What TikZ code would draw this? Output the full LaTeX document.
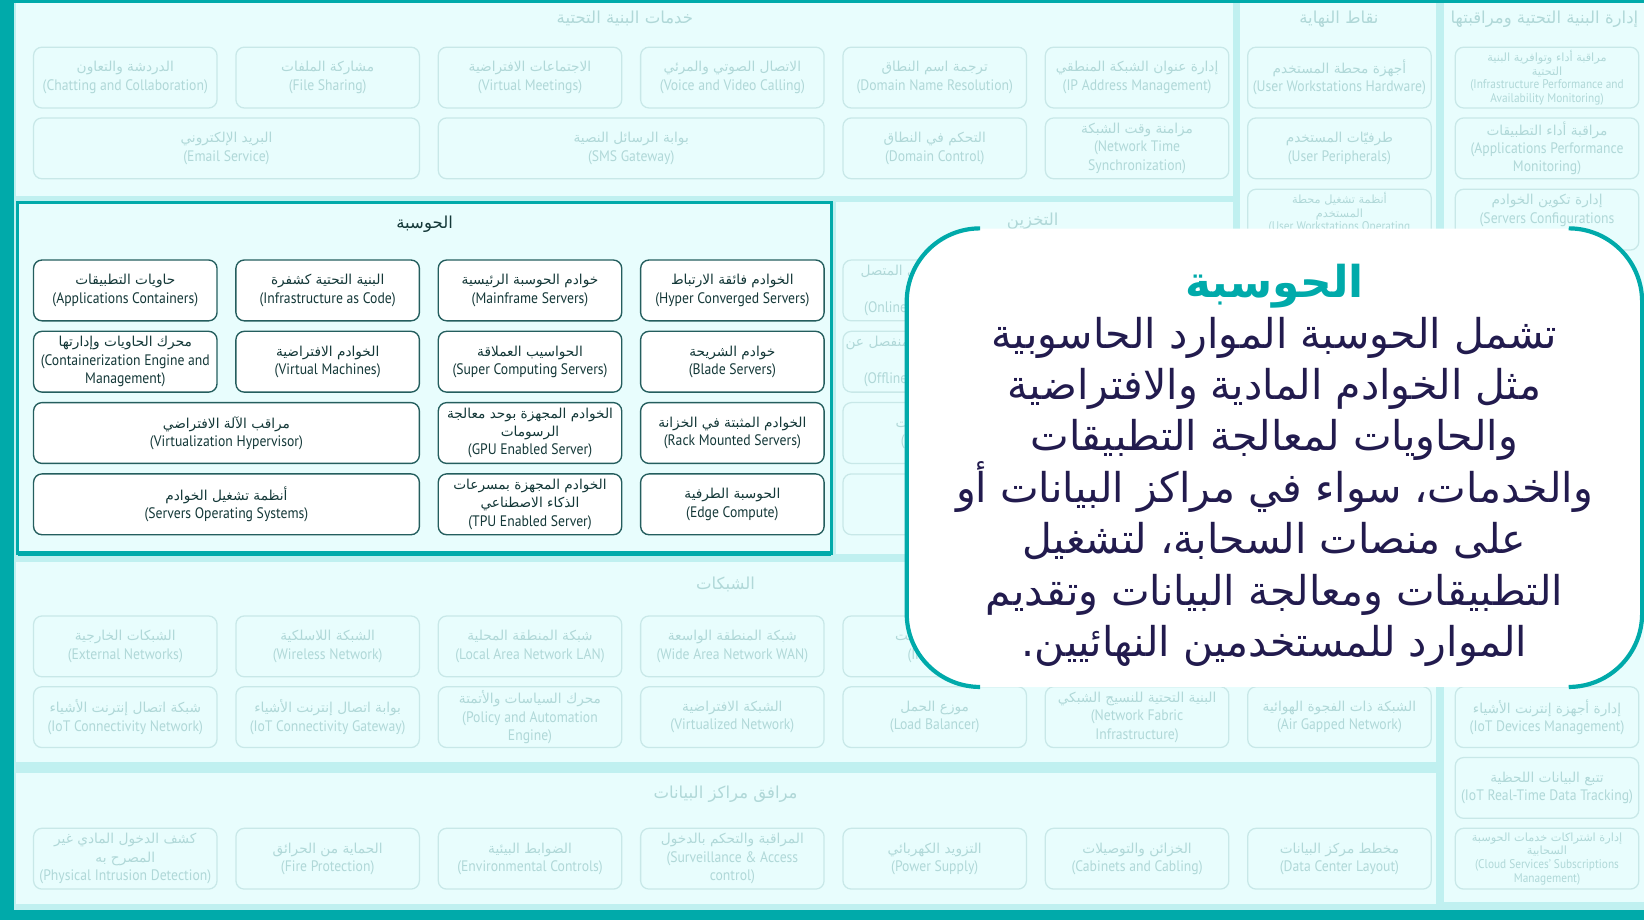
\documentclass[tikz,border=0pt]{standalone}
\usepackage{fontspec}
\usepackage{tikz}
\TeXXeTstate=1
\setmainfont{PT Sans}[FakeStretch=0.9]
\newfontfamily\arabicfont[Script=Arabic, Scale=0.9]{DejaVu Sans}
\newcommand{\artext}[1]{{\arabicfont\beginR #1\endR}}
\definecolor{bandteal}{RGB}{0,170,170}
\definecolor{gapcyan}{RGB}{192,240,240}
\definecolor{panelcyan}{RGB}{232,253,253}
\definecolor{fadeline}{RGB}{200,232,232}
\definecolor{fadetext}{RGB}{176,216,216}
\definecolor{tileline}{RGB}{36,94,94}
\definecolor{tiletext}{RGB}{20,56,56}
\definecolor{notenavy}{RGB}{34,27,78}

\begin{document}
\begin{tikzpicture}[
        x=1pt, y=-1pt,
        panel/.style={anchor=north west, inner sep=0pt, outer sep=0pt, fill=panelcyan},
        ptitle/.style={inner sep=1pt, text=fadetext, font=\fontsize{17.5}{20}\selectfont},
        tile/.style={draw=fadeline, fill=panelcyan, line width=1.2pt, rounded corners=8pt, minimum width=175pt, minimum height=58pt, inner sep=2pt, align=center, text=fadetext, font=\fontsize{14.5}{17.5}\selectfont},
        wide/.style={minimum width=368pt},
        dense/.style={font=\fontsize{12}{13}\selectfont},
        ctile/.style={tile, draw=tileline, fill=white, text=tiletext, line width=1.3pt},
        note/.style={fill=white, rounded corners=70pt, minimum width=701pt, minimum height=437pt, inner sep=0pt},
        noteedge/.style={draw=bandteal, line width=4pt},
        notetext/.style={align=center, text=notenavy, font=\fontsize{43.5}{49}\selectfont}
    ]
        % Frame and background
        \node[panel, fill=bandteal, minimum width=1568pt, minimum height=877pt] (frame) at (0,0) {};
        \useasboundingbox (frame.north west) rectangle (frame.south east);
        \node[panel, fill=gapcyan, minimum width=1555pt, minimum height=865pt] (gap) at (13,3) {};

        % Panels
        \node[panel, minimum width=1161pt, minimum height=184pt] (services) at (15,3) {};
        \node[panel, minimum width=187pt, minimum height=525pt] (endpoints) at (1183,3) {};
        \node[panel, minimum width=191pt, minimum height=857pt] (monitoring) at (1377,3) {};
        \node[panel, minimum width=379pt, minimum height=335pt] (storage) at (797,193) {};
        \node[panel, minimum width=1355pt, minimum height=191pt] (networks) at (15,536) {};
        \node[panel, minimum width=1355pt, minimum height=125pt] (datacenter) at (15,737) {};
        \node[panel, draw=bandteal, line width=3pt, minimum width=776pt, minimum height=335pt] (compute) at (17,193) {};
        \draw[bandteal, line width=5pt] (compute.south west) -- (compute.south east);

        % Panel titles
        \node[ptitle] (services-title) at (596,18) {\artext{خدمات البنية التحتية}};
        \node[ptitle] (endpoints-title) at (1277,18) {\artext{نقاط النهاية}};
        \node[ptitle] (monitoring-title) at (1473,18) {\artext{إدارة البنية التحتية ومراقبتها}};
        \node[ptitle, text=tiletext] (compute-title) at (405,214) {\artext{الحوسبة}};
        \node[ptitle] (storage-title) at (985,211) {\artext{التخزين}};
        \node[ptitle] (networks-title) at (692,557) {\artext{الشبكات}};
        \node[ptitle] (datacenter-title) at (692,758) {\artext{مرافق مراكز البيانات}};

        % Infrastructure services
        \node[tile] (s-chat) at (119.5,74) {\artext{الدردشة والتعاون}\\(Chatting and Collaboration)};
        \node[tile] (s-files) at (312.5,74) {\artext{مشاركة الملفات}\\(File Sharing)};
        \node[tile] (s-meet) at (505.5,74) {\artext{الاجتماعات الافتراضية}\\(Virtual Meetings)};
        \node[tile] (s-voice) at (698.5,74) {\artext{الاتصال الصوتي والمرئي}\\(Voice and Video Calling)};
        \node[tile] (s-dns) at (891.5,74) {\artext{ترجمة اسم النطاق}\\(Domain Name Resolution)};
        \node[tile] (s-ipam) at (1084.5,74) {\artext{إدارة عنوان الشبكة المنطقي}\\(IP Address Management)};
        \node[tile, wide] (s-mail) at (216,141.5) {\artext{البريد الإلكتروني}\\(Email Service)};
        \node[tile, wide] (s-sms) at (602,141.5) {\artext{بوابة الرسائل النصية}\\(SMS Gateway)};
        \node[tile] (s-domain) at (891.5,141.5) {\artext{التحكم في النطاق}\\(Domain Control)};
        \node[tile] (s-ntp) at (1084.5,141.5) {\artext{مزامنة وقت الشبكة}\\(Network Time\\Synchronization)};

        % Endpoints
        \node[tile] (e-hw) at (1277.5,74) {\artext{أجهزة محطة المستخدم}\\(User Workstations Hardware)};
        \node[tile] (e-periph) at (1277.5,141.5) {\artext{طرفيّات المستخدم}\\(User Peripherals)};
        \node[tile, dense] (e-os) at (1277.5,209.5) {\artext{أنظمة تشغيل محطة}\\\artext{المستخدم}\\(User Workstations Operating\\Systems)};

        % Management and monitoring
        \node[tile, dense] (m-infra) at (1475.5,74) {\artext{مراقبة أداء وتوافرية البنية}\\\artext{التحتية}\\(Infrastructure Performance and\\Availability Monitoring)};
        \node[tile] (m-apm) at (1475.5,141.5) {\artext{مراقبة أداء التطبيقات}\\(Applications Performance\\Monitoring)};
        \node[tile] (m-config) at (1475.5,209.5) {\artext{إدارة تكوين الخوادم}\\(Servers Configurations\\Management)};
        \node[tile] (m-iot) at (1475.5,684) {\artext{إدارة أجهزة إنترنت الأشياء}\\(IoT Devices Management)};
        \node[tile] (m-track) at (1475.5,751.5) {\artext{تتبع البيانات اللحظية}\\(IoT Real-Time Data Tracking)};
        \node[tile, dense] (m-cloud) at (1475.5,819) {\artext{إدارة اشتراكات خدمات الحوسبة}\\\artext{السحابية}\\(Cloud Services’ Subscriptions\\Management)};

        % Compute
        \node[ctile] (c-containers) at (119.5,277) {\artext{حاويات التطبيقات}\\(Applications Containers)};
        \node[ctile] (c-iac) at (312.5,277) {\artext{البنية التحتية كشفرة}\\(Infrastructure as Code)};
        \node[ctile] (c-mainframe) at (505.5,277) {\artext{خوادم الحوسبة الرئيسية}\\(Mainframe Servers)};
        \node[ctile] (c-hci) at (698.5,277) {\artext{الخوادم فائقة الارتباط}\\(Hyper Converged Servers)};
        \node[ctile] (c-engine) at (119.5,345) {\artext{محرك الحاويات وإدارتها}\\(Containerization Engine and\\Management)};
        \node[ctile] (c-vm) at (312.5,345) {\artext{الخوادم الافتراضية}\\(Virtual Machines)};
        \node[ctile] (c-super) at (505.5,345) {\artext{الحواسيب العملاقة}\\(Super Computing Servers)};
        \node[ctile] (c-blade) at (698.5,345) {\artext{خوادم الشريحة}\\(Blade Servers)};
        \node[ctile, wide] (c-hypervisor) at (216,413) {\artext{مراقب الآلة الافتراضي}\\(Virtualization Hypervisor)};
        \node[ctile] (c-gpu) at (505.5,413) {\artext{الخوادم المجهزة بوحد معالجة}\\\artext{الرسومات}\\(GPU Enabled Server)};
        \node[ctile] (c-rack) at (698.5,413) {\artext{الخوادم المثبتة في الخزانة}\\(Rack Mounted Servers)};
        \node[ctile, wide] (c-os) at (216,481) {\artext{أنظمة تشغيل الخوادم}\\(Servers Operating Systems)};
        \node[ctile] (c-tpu) at (505.5,481) {\artext{الخوادم المجهزة بمسرعات}\\\artext{الذكاء الاصطناعي}\\(TPU Enabled Server)};
        \node[ctile] (c-edge) at (698.5,481) {\artext{الحوسبة الطرفية}\\(Edge Compute)};

        % Storage
        \node[tile] (st-online) at (891.5,277) {\artext{التخزين الاحتياطي المتصل}\\\artext{بالشبكة}\\(Online Backup Storage)};
        \node[tile] (st-offline) at (891.5,345) {\artext{التخزين الاحتياطي المنفصل عن}\\\artext{الشبكة}\\(Offline Backup Storage)};
        \node[tile] (st-db) at (891.5,413) {\artext{قواعد البيانات}\\(Databases)};
        \node[tile] (st-more) at (891.5,481) {};

        % Networks
        \node[tile] (n-external) at (119.5,616.5) {\artext{الشبكات الخارجية}\\(External Networks)};
        \node[tile] (n-wireless) at (312.5,616.5) {\artext{الشبكة اللاسلكية}\\(Wireless Network)};
        \node[tile] (n-lan) at (505.5,616.5) {\artext{شبكة المنطقة المحلية}\\(Local Area Network LAN)};
        \node[tile] (n-wan) at (698.5,616.5) {\artext{شبكة المنطقة الواسعة}\\(Wide Area Network WAN)};
        \node[tile] (n-internet) at (891.5,616.5) {\artext{شبكة الإنترنت}\\(Internet)};
        \node[tile] (n-iot) at (119.5,684) {\artext{شبكة اتصال إنترنت الأشياء}\\(IoT Connectivity Network)};
        \node[tile] (n-gateway) at (312.5,684) {\artext{بوابة اتصال إنترنت الأشياء}\\(IoT Connectivity Gateway)};
        \node[tile] (n-policy) at (505.5,684) {\artext{محرك السياسات والأتمتة}\\(Policy and Automation\\Engine)};
        \node[tile] (n-virtual) at (698.5,684) {\artext{الشبكة الافتراضية}\\(Virtualized Network)};
        \node[tile] (n-balancer) at (891.5,684) {\artext{موزع الحمل}\\(Load Balancer)};
        \node[tile] (n-fabric) at (1084.5,684) {\artext{البنية التحتية للنسيج الشبكي}\\(Network Fabric\\Infrastructure)};
        \node[tile] (n-airgap) at (1277.5,684) {\artext{الشبكة ذات الفجوة الهوائية}\\(Air Gapped Network)};

        % Data center facilities
        \node[tile] (d-intrusion) at (119.5,819) {\artext{كشف الدخول المادي غير}\\\artext{المصرح به}\\(Physical Intrusion Detection)};
        \node[tile] (d-fire) at (312.5,819) {\artext{الحماية من الحرائق}\\(Fire Protection)};
        \node[tile] (d-env) at (505.5,819) {\artext{الضوابط البيئية}\\(Environmental Controls)};
        \node[tile] (d-access) at (698.5,819) {\artext{المراقبة والتحكم بالدخول}\\(Surveillance \& Access\\control)};
        \node[tile] (d-power) at (891.5,819) {\artext{التزويد الكهربائي}\\(Power Supply)};
        \node[tile] (d-cabinets) at (1084.5,819) {\artext{الخزائن والتوصيلات}\\(Cabinets and Cabling)};
        \node[tile] (d-layout) at (1277.5,819) {\artext{مخطط مركز البيانات}\\(Data Center Layout)};

        % Callout
        \node[note] (note) at (1215.5,436.5) {};
        \draw[noteedge] ([xshift=70pt]note.north west) arc[start angle=90, end angle=180, radius=70pt] -- ([yshift=70pt]note.south west) arc[start angle=180, end angle=270, radius=70pt];
        \draw[noteedge] ([xshift=-70pt]note.north east) arc[start angle=90, end angle=0, radius=70pt] -- ([yshift=70pt]note.south east) arc[start angle=0, end angle=-90, radius=70pt];
        \node[text=bandteal, font=\fontsize{46.5}{52}\selectfont\bfseries] (note-title) at (1215.5,273) {\artext{الحوسبة}};
        \node[notetext] (note-body) at (1215.5,469) {\artext{تشمل الحوسبة الموارد الحاسوبية}\\\artext{مثل الخوادم المادية والافتراضية}\\\artext{والحاويات لمعالجة التطبيقات}\\\artext{والخدمات، سواء في مراكز البيانات أو}\\\artext{على منصات السحابة، لتشغيل}\\\artext{التطبيقات ومعالجة البيانات وتقديم}\\\artext{الموارد للمستخدمين النهائيين.}};
    \end{tikzpicture}
\end{document}
